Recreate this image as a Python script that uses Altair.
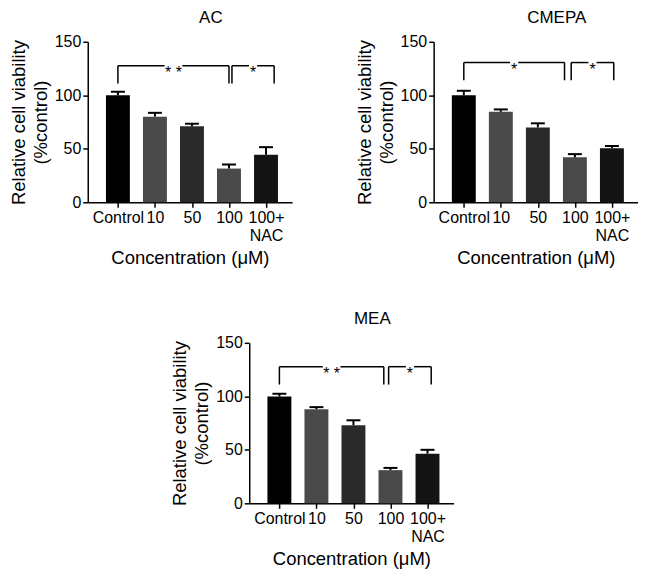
import altair as alt
import pandas as pd

# ---- data ----
categories = ["Control", "10", "50", "100", "100+ NAC"]
bar_colors = ["#000000", "#4a4a4a", "#2a2a2a", "#4a4a4a", "#141414"]

ac_mean = [100, 80, 71, 31.5, 44.5]
ac_err = [3.3, 3.6, 2.4, 3.8, 7.0]

cmepa_mean = [100, 84.6, 70, 42, 50.6]
cmepa_err = [4.2, 2.2, 3.8, 3.0, 2.0]

mea_mean = [99.8, 87.9, 73, 31, 46.4]
mea_err = [2.6, 2.0, 4.6, 2.1, 3.6]

# brackets: (start index, end index, label, line level, drop level)
ac_brackets = [(0.0, 3.0, "* *", 127.6, 111), (3.08, 4.22, "*", 127.6, 111)]
cmepa_brackets = [(0.0, 2.72, "*", 130.6, 114), (2.9, 4.05, "*", 130.6, 114)]
mea_brackets = [(0.0, 2.82, "* *", 127.7, 111), (2.95, 4.1, "*", 127.7, 111)]

FONT = "Liberation Sans"
XDOMAIN = [-0.68, 4.57]


def panel(title, means, errs, brackets, width=205):
    df = pd.DataFrame({
        "pos": list(range(len(categories))),
        "cat": categories,
        "mean": means,
        "top": [m + e for m, e in zip(means, errs)],
        "color": bar_colors,
    })
    xs = alt.Scale(domain=XDOMAIN, nice=False, zero=False)
    ys = alt.Scale(domain=[0, 150], nice=False)
    label_expr = "['Control','10','50','100',['100+','NAC']][datum.value]"
    x_axis = alt.Axis(values=[0, 1, 2, 3, 4], labelExpr=label_expr,
                      title="Concentration (μM)", tickSize=5, labelPadding=2,
                      labelLineHeight=18, titlePadding=5, labelAngle=0,
                      labelOverlap=False)
    y_axis = alt.Axis(values=[0, 50, 100, 150], tickSize=5, labelPadding=2,
                      title=["Relative cell viability", "(%control)"],
                      titleLineHeight=22, titlePadding=4)

    bars = alt.Chart(df).mark_bar(size=24).encode(
        x=alt.X("pos:Q", scale=xs, axis=x_axis),
        y=alt.Y("mean:Q", scale=ys, axis=y_axis),
        fill=alt.Fill("color:N", scale=None),
    )
    stem = alt.Chart(df).mark_rule(strokeWidth=2, color="black").encode(
        x="pos:Q", y="mean:Q", y2="top:Q")
    cap = alt.Chart(df).mark_rule(strokeWidth=2, color="black", xOffset=-7, x2Offset=7).encode(
        x="pos:Q", x2="pos:Q", y="top:Q")

    segs = []
    drops = []
    texts = []
    for s, e, lab, ly, dy in brackets:
        mid = (s + e) / 2
        half = 0.24 if len(lab) > 1 else 0.11
        segs.append({"x": s, "x2": mid - half, "y": ly})
        segs.append({"x": mid + half, "x2": e, "y": ly})
        drops.append({"x": s, "y": ly, "y2": dy})
        drops.append({"x": e, "y": ly, "y2": dy})
        texts.append({"x": mid, "y": ly, "t": lab})
    hseg = alt.Chart(pd.DataFrame(segs)).mark_rule(strokeWidth=1.5, color="black").encode(
        x="x:Q", x2="x2:Q", y="y:Q")
    vseg = alt.Chart(pd.DataFrame(drops)).mark_rule(strokeWidth=1.5, color="black").encode(
        x="x:Q", y="y:Q", y2="y2:Q")
    txt = alt.Chart(pd.DataFrame(texts)).mark_text(
        font=FONT, fontSize=16, baseline="middle", dy=7, color="black").encode(
        x="x:Q", y="y:Q", text="t:N")

    return alt.layer(bars, stem, cap, hseg, vseg, txt).properties(
        width=width, height=161,
        title=alt.TitleParams(title, fontSize=17, fontWeight="normal", font=FONT,
                              dx=21, anchor="middle", color="black", offset=7),
    )


ac = panel("AC", ac_mean, ac_err, ac_brackets)
cmepa = panel("CMEPA", cmepa_mean, cmepa_err, cmepa_brackets)
mea = panel("MEA", mea_mean, mea_err, mea_brackets)

spacer = alt.Chart(pd.DataFrame({"a": [0]})).mark_point(opacity=0).encode(
    x=alt.X("a:Q", axis=None), y=alt.Y("a:Q", axis=None)
).properties(width=83, height=10)

top = alt.hconcat(ac, cmepa, spacing=63)
bottom = alt.hconcat(spacer, mea, spacing=0)

chart = alt.vconcat(top, bottom, spacing=43).properties(
    padding={"left": 1, "top": 0, "right": 0, "bottom": 0}
).configure_view(stroke=None).configure_axis(
    labelFont=FONT, titleFont=FONT, labelFontSize=16, titleFontSize=18.5,
    labelColor="black", titleColor="black", domainColor="black", tickColor="black",
    domainWidth=1.5, tickWidth=1.5, grid=False, titleFontWeight="normal",
)

chart.save("out.html", embed_options={"renderer": "svg", "actions": False})
